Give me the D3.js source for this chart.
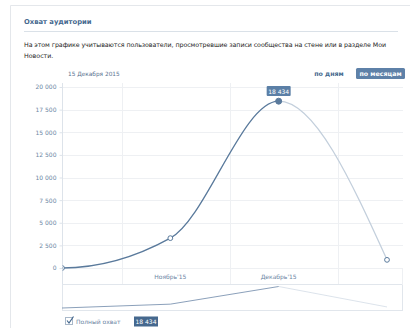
<!DOCTYPE html>
<html>
<head>
<meta charset="utf-8">
<script src="https://d3js.org/d3.v7.min.js"></script>
<style>
  body { margin: 0; background: #fff; }
  svg text { font-family: "DejaVu Sans", Tahoma, sans-serif; }
</style>
</head>
<body>
<svg id="stage" width="410" height="328"></svg>
<script>
// data (September sits just left of the visible area)
var months = ["Сентябрь'15", "Октябрь'15", "Ноябрь'15", "Декабрь'15", "Январь'16"];
var reach = [0, 0, 3300, 18434, 900];
var monthLabels = ["", "", "Ноябрь'15", "Декабрь'15", ""];
var yTicks = [0, 2500, 5000, 7500, 10000, 12500, 15000, 17500, 20000];

var svg = d3.select("#stage");
var fmt = function(v) { return d3.format(",")(v).replace(/,/g, " "); };

// panel frame
svg.append("path")
  .attr("d", "M10.5,328 V5.5 H410")
  .attr("fill", "none").attr("stroke", "#e4e7eb");

svg.append("text").attr("x", 24).attr("y", 24)
  .attr("font-size", 6.8).attr("font-weight", "bold").attr("fill", "#45688e")
  .text("Охват аудитории");
svg.append("line").attr("x1", 24).attr("x2", 398).attr("y1", 31.5).attr("y2", 31.5)
  .attr("stroke", "#dae1e8");

svg.append("text").attr("x", 24).attr("y", 47)
  .attr("font-size", 6.3).attr("fill", "#222").attr("textLength", 362)
  .text("На этом графике учитываются пользователи, просмотревшие записи сообщества на стене или в разделе Мои");
svg.append("text").attr("x", 24).attr("y", 58)
  .attr("font-size", 6.3).attr("fill", "#222")
  .text("Новости.");

svg.append("text").attr("x", 68).attr("y", 76)
  .attr("font-size", 5.8).attr("fill", "#5a7391")
  .text("15 Декабря 2015");
svg.append("text").attr("x", 329).attr("y", 76).attr("text-anchor", "middle")
  .attr("font-size", 6.3).attr("font-weight", "bold").attr("fill", "#45688e")
  .text("по дням");
svg.append("rect").attr("x", 356).attr("y", 68).attr("width", 49).attr("height", 11)
  .attr("rx", 1.5).attr("fill", "#5e81a8");
svg.append("text").attr("x", 380.5).attr("y", 76).attr("text-anchor", "middle")
  .attr("font-size", 6.3).attr("font-weight", "bold").attr("fill", "#fff")
  .text("по месяцам");

// scales
var left = 62, right = 403;
var shown = months.slice(1);
var x = d3.scalePoint().domain(shown).range([62, 387]);
var step = x.step();
var xAll = function(i) { return x(shown[0]) + (i - 1) * step; };
var y = d3.scaleLinear().domain([0, 20000]).range([268, 87]);

// grid
svg.append("g").selectAll("line").data(yTicks).enter().append("line")
  .attr("x1", left).attr("x2", right)
  .attr("y1", function(d) { return Math.round(y(d)) + 0.5; })
  .attr("y2", function(d) { return Math.round(y(d)) + 0.5; })
  .attr("stroke", "#eef0f3");
svg.append("g").selectAll("line").data(shown.slice(0, 3)).enter().append("line")
  .attr("x1", function(d) { return Math.round(x(d) + step * 0.55) + 0.5; })
  .attr("x2", function(d) { return Math.round(x(d) + step * 0.55) + 0.5; })
  .attr("y1", 83).attr("y2", 284)
  .attr("stroke", "#eef0f3");

// y axis
var yAxis = svg.append("g").attr("transform", "translate(" + (left + 0.5) + ",0)")
  .call(d3.axisLeft(y).tickValues(yTicks).tickSize(3).tickFormat(fmt));
yAxis.select(".domain").attr("stroke", "#dde3ea").attr("d", "M0,83V284");
yAxis.selectAll(".tick line").attr("stroke", "#dde3ea");
yAxis.selectAll(".tick text").attr("font-size", 6).attr("fill", "#6b85a3")
  .attr("font-family", "DejaVu Sans, sans-serif");

// label row and navigator box
svg.append("line").attr("x1", left).attr("x2", right).attr("y1", 284.5).attr("y2", 284.5)
  .attr("stroke", "#e1e6ec");
svg.append("rect").attr("x", left + 0.5).attr("y", 284.5).attr("width", right - left - 1).attr("height", 26)
  .attr("fill", "none").attr("stroke", "#e1e6ec");
svg.append("line").attr("x1", right - 0.5).attr("x2", right - 0.5).attr("y1", 268).attr("y2", 285)
  .attr("stroke", "#eef0f3");

svg.append("g").selectAll("text").data(shown).enter().append("text")
  .attr("x", function(d) { return x(d); }).attr("y", 279)
  .attr("text-anchor", "middle").attr("font-size", 6).attr("fill", "#6b85a3")
  .text(function(d, i) { return monthLabels[i + 1]; });

// main curve, dark up to the peak and light after it, clipped at the y axis
var pts = months.map(function(m, i) { return [xAll(i), y(reach[i])]; });
var line = d3.line().curve(d3.curveMonotoneX);
var split = x(shown[2]);
var defs = svg.append("defs");
defs.append("clipPath").attr("id", "cl").append("rect")
  .attr("x", left).attr("y", 0).attr("width", split - left).attr("height", 328);
defs.append("clipPath").attr("id", "cr").append("rect")
  .attr("x", split).attr("y", 0).attr("width", 410 - split).attr("height", 328);
defs.append("clipPath").attr("id", "plot").append("rect")
  .attr("x", left + 0.5).attr("y", 0).attr("width", 410 - left).attr("height", 328);
svg.append("path").attr("d", line(pts)).attr("fill", "none")
  .attr("stroke", "#c3cfdc").attr("stroke-width", 1.3).attr("clip-path", "url(#cr)");
svg.append("path").attr("d", line(pts)).attr("fill", "none")
  .attr("stroke", "#5a7a9c").attr("stroke-width", 1.3).attr("clip-path", "url(#cl)");

// markers
svg.append("g").attr("clip-path", "url(#plot)")
  .selectAll("circle").data(shown).enter().append("circle")
  .attr("cx", function(d) { return x(d); })
  .attr("cy", function(d, i) { return y(reach[i + 1]); })
  .attr("r", function(d, i) { return i == 2 ? 3 : 2.4; })
  .attr("fill", function(d, i) { return i == 2 ? "#5a7a9c" : "#fff"; })
  .attr("stroke", "#5a7a9c").attr("stroke-width", 1);

// tooltip over the peak
var peak = reach[3];
svg.append("rect").attr("x", x(shown[2]) - 12).attr("y", 86).attr("width", 24).attr("height", 10)
  .attr("rx", 1).attr("fill", "#5b7fa6");
svg.append("text").attr("x", x(shown[2])).attr("y", 93.5).attr("text-anchor", "middle")
  .attr("font-size", 6).attr("fill", "#fff").text(fmt(peak));

// navigator
var yn = d3.scaleLinear().domain([0, d3.max(reach)]).range([308, 286.5]);
var nav = shown.map(function(m, i) { return [x(m), yn(reach[i + 1])]; });
var lin = d3.line();
svg.append("path").attr("d", lin(nav.slice(2))).attr("fill", "none")
  .attr("stroke", "#d3dce6").attr("stroke-width", 0.8);
svg.append("path").attr("d", lin(nav.slice(0, 3))).attr("fill", "none")
  .attr("stroke", "#6d88a8").attr("stroke-width", 0.8);

// legend
svg.append("rect").attr("x", 65.5).attr("y", 317.5).attr("width", 7).attr("height", 7)
  .attr("fill", "#fff").attr("stroke", "#a9b8c9");
svg.append("path").attr("d", "M67,320.5 L69,323 L73.5,316.5").attr("fill", "none")
  .attr("stroke", "#45688e").attr("stroke-width", 1.2);
svg.append("text").attr("x", 76).attr("y", 323.5).attr("font-size", 6).attr("fill", "#6b85a3")
  .text("Полный охват");
svg.append("rect").attr("x", 134).attr("y", 316.5).attr("width", 24).attr("height", 10)
  .attr("fill", "#45688e");
svg.append("text").attr("x", 146).attr("y", 323.8).attr("text-anchor", "middle")
  .attr("font-size", 6).attr("fill", "#fff").text(fmt(peak));
</script>
</body>
</html>
